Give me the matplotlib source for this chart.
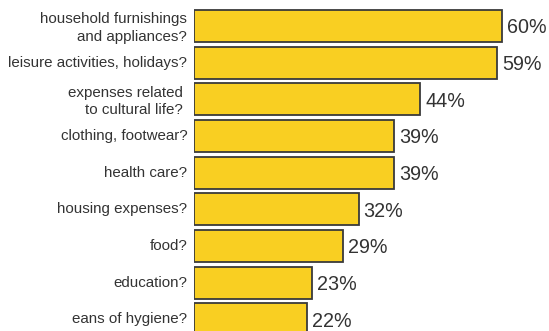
import matplotlib
matplotlib.use("Agg")
import matplotlib.pyplot as plt

categories = [
    "household furnishings\nand appliances?",
    "leisure activities, holidays?",
    "expenses related \nto cultural life? ",
    "clothing, footwear?",
    "health care?",
    "housing expenses?",
    "food?",
    "education?",
    "eans of hygiene?",
]
values = [60, 59, 44, 39, 39, 32, 29, 23, 22]
value_labels = ["60%", "59%", "44%", "39%", "39%", "32%", "29%", "23%", "22%"]

plt.rcParams['font.family'] = ['Liberation Sans', 'DejaVu Sans']

W, H = 549, 331
fig = plt.figure(figsize=(W / 100, H / 100), dpi=100)
left_px = 194.3
ax = fig.add_axes([left_px / W, 0, 1 - left_px / W, 1])

px_per_unit = 5.133
xmax = (W - left_px) / px_per_unit
pitch = 36.67
ytop = -26 / pitch
ybot = 8 + (331 - 319.3) / pitch
ax.set_xlim(0, xmax)
ax.set_ylim(ybot, ytop)

ypos = list(range(len(values)))
ax.barh(ypos, values, height=0.87, color="#F9CF22", edgecolor="#3a3a3a",
        linewidth=1.3, left=0)

for y, v, lab in zip(ypos, values, value_labels):
    ax.text(v + 1.0, y, lab, va="center_baseline", ha="left", fontsize=14.2,
            color="#333333")

for y, c in zip(ypos, categories):
    dy = -1.5 if "\n" in c else 0
    ax.annotate(c, xy=(0, y), xycoords="data", xytext=(-5, dy),
                textcoords="offset points", ha="right", va="center",
                multialignment="right", fontsize=10.9, color="#333333",
                linespacing=1.3, annotation_clip=False)

ax.axis("off")
fig.savefig("out.png", dpi=100)
